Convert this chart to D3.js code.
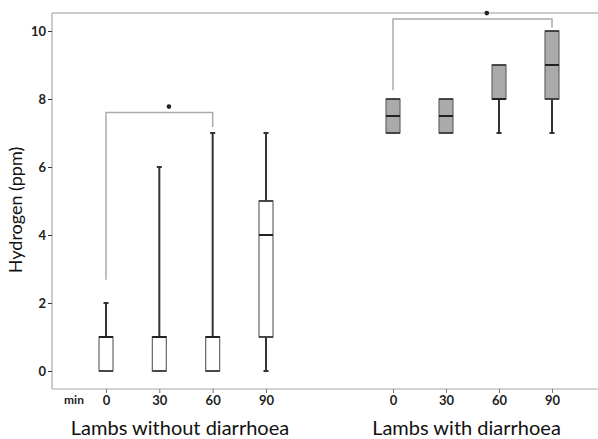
<!DOCTYPE html>
<html>
<head>
<meta charset="utf-8">
<script src="https://cdn.jsdelivr.net/npm/d3@7"></script>
<style>
  body { margin: 0; background: #fff; }
  text { font-family: Lato, "Open Sans", sans-serif; }
</style>
</head>
<body>
<div id="chart"></div>
<script>
// ---------------- data ----------------
const times = [0, 30, 60, 90];
const groups = ["Lambs without diarrhoea", "Lambs with diarrhoea"];
const yTicks = [0, 2, 4, 6, 8, 10];

// per group, per time (ppm)
const whiskerLow = [[0, 0, 0, 0], [7, 7, 7, 7]];
const q1 = [[0, 0, 0, 1], [7, 7, 8, 8]];
const median = [[1, 1, 1, 4], [7.5, 7.5, 8, 9]];
const q3 = [[1, 1, 1, 5], [8, 8, 9, 10]];
const whiskerHigh = [[2, 6, 7, 7], [8, 8, 9, 10]];

// significance brackets
const brackets = [
  { group: 0, from: 0, to: 60, leftEnd: 2.68, rightEnd: 7.18, level: 7.6 },
  { group: 1, from: 0, to: 90, leftEnd: 8.26, rightEnd: 10.1, level: 10.35 }
];

// ---------------- layout ----------------
const W = 598, H = 439;
const PLOT_LEFT = 52, PLOT_RIGHT = 598, PLOT_TOP = 13, PLOT_BOTTOM = 389;
const BOX_W = 14;
const CAP_W = 5;
const STAR_POS = 0.59;   // where the star sits along the bracket
const LABEL_SHIFT = -6;  // group labels sit a bit left of the group centre

const svg = d3.select("#chart").append("svg")
  .attr("width", W).attr("height", H);

const y = d3.scaleLinear().domain([-0.53, 10.53]).range([PLOT_BOTTOM, PLOT_TOP]);
const xs = [
  d3.scaleLinear().domain([0, 90]).range([106, 266]),
  d3.scaleLinear().domain([0, 90]).range([393, 552])
];

// frame
svg.append("line")
  .attr("x1", PLOT_LEFT).attr("x2", PLOT_RIGHT)
  .attr("y1", PLOT_TOP).attr("y2", PLOT_TOP)
  .attr("stroke", "#999").attr("stroke-width", 1.2);

// y axis
const yAxis = svg.append("g")
  .attr("transform", `translate(${PLOT_LEFT},0)`)
  .call(d3.axisLeft(y).tickValues(yTicks).tickSize(4).tickSizeOuter(0));
yAxis.select(".domain").attr("stroke", "#aaa").attr("stroke-width", 1.2)
  .attr("d", `M0,${PLOT_TOP}V${PLOT_BOTTOM}`);
yAxis.selectAll(".tick line").attr("stroke", "#333");
yAxis.selectAll(".tick text")
  .attr("x", -6)
  .style("font-size", "13px").style("font-weight", "bold").attr("fill", "#222");

// x axis line
svg.append("line")
  .attr("x1", PLOT_LEFT).attr("x2", PLOT_RIGHT)
  .attr("y1", PLOT_BOTTOM).attr("y2", PLOT_BOTTOM)
  .attr("stroke", "#aaa").attr("stroke-width", 1.2);

xs.forEach((x, gi) => {
  const g = svg.append("g").attr("transform", `translate(0,${PLOT_BOTTOM})`)
    .call(d3.axisBottom(x).tickValues(times).tickSize(4).tickSizeOuter(0));
  g.select(".domain").remove();
  g.selectAll(".tick line").attr("stroke", "#777");
  g.selectAll(".tick text")
    .attr("y", 7)
    .style("font-size", "13px").style("font-weight", "bold").attr("fill", "#222");

  svg.append("text")
    .attr("x", (x(0) + x(90)) / 2 + LABEL_SHIFT)
    .attr("y", 435)
    .attr("text-anchor", "middle")
    .style("font-size", "20px")
    .attr("fill", "#111")
    .text(groups[gi]);
});

svg.append("text")
  .attr("x", 74).attr("y", 404)
  .attr("text-anchor", "middle")
  .style("font-size", "12px").style("font-weight", "bold").attr("fill", "#222")
  .text("min");

// y label
svg.append("text")
  .attr("transform", `translate(22,${(PLOT_TOP + PLOT_BOTTOM) / 2 + 9}) rotate(-90)`)
  .attr("text-anchor", "middle")
  .style("font-size", "18px")
  .attr("fill", "#111")
  .text("Hydrogen (ppm)");

// ---------------- brackets ----------------
brackets.forEach(b => {
  const x = xs[b.group];
  const path = d3.path();
  path.moveTo(x(b.from), y(b.leftEnd));
  path.lineTo(x(b.from), y(b.level));
  path.lineTo(x(b.to), y(b.level));
  path.lineTo(x(b.to), y(b.rightEnd));
  svg.append("path").attr("d", path.toString())
    .attr("fill", "none").attr("stroke", "#aaa").attr("stroke-width", 1.5);
  svg.append("circle")
    .attr("cx", x(b.from) + (x(b.to) - x(b.from)) * STAR_POS)
    .attr("cy", y(b.level) - 6)
    .attr("r", 2.3).attr("fill", "#222");
});

// ---------------- boxes ----------------
groups.forEach((grp, gi) => {
  const x = xs[gi];
  const fill = gi === 0 ? "#fff" : "#aaa";
  times.forEach((t, ti) => {
    const cx = x(t);
    const g = svg.append("g");
    // whiskers
    if (whiskerHigh[gi][ti] > q3[gi][ti]) {
      g.append("line").attr("x1", cx).attr("x2", cx)
        .attr("y1", y(q3[gi][ti])).attr("y2", y(whiskerHigh[gi][ti]))
        .attr("stroke", "#333").attr("stroke-width", 2);
      g.append("line").attr("x1", cx - CAP_W / 2).attr("x2", cx + CAP_W / 2)
        .attr("y1", y(whiskerHigh[gi][ti])).attr("y2", y(whiskerHigh[gi][ti]))
        .attr("stroke", "#333").attr("stroke-width", 2);
    }
    if (whiskerLow[gi][ti] < q1[gi][ti]) {
      g.append("line").attr("x1", cx).attr("x2", cx)
        .attr("y1", y(q1[gi][ti])).attr("y2", y(whiskerLow[gi][ti]))
        .attr("stroke", "#333").attr("stroke-width", 2);
      g.append("line").attr("x1", cx - CAP_W / 2).attr("x2", cx + CAP_W / 2)
        .attr("y1", y(whiskerLow[gi][ti])).attr("y2", y(whiskerLow[gi][ti]))
        .attr("stroke", "#333").attr("stroke-width", 2);
    }
    // box
    g.append("rect")
      .attr("x", cx - BOX_W / 2).attr("width", BOX_W)
      .attr("y", y(q3[gi][ti])).attr("height", y(q1[gi][ti]) - y(q3[gi][ti]))
      .attr("fill", fill).attr("stroke", "#666").attr("stroke-width", 1.2);
    // quartile edges
    [q1[gi][ti], q3[gi][ti]].forEach(v => {
      g.append("line").attr("x1", cx - BOX_W / 2).attr("x2", cx + BOX_W / 2)
        .attr("y1", y(v)).attr("y2", y(v))
        .attr("stroke", "#333").attr("stroke-width", 1.6);
    });
    // median
    g.append("line").attr("x1", cx - BOX_W / 2).attr("x2", cx + BOX_W / 2)
      .attr("y1", y(median[gi][ti])).attr("y2", y(median[gi][ti]))
      .attr("stroke", "#222").attr("stroke-width", 2);
  });
});
</script>
</body>
</html>
